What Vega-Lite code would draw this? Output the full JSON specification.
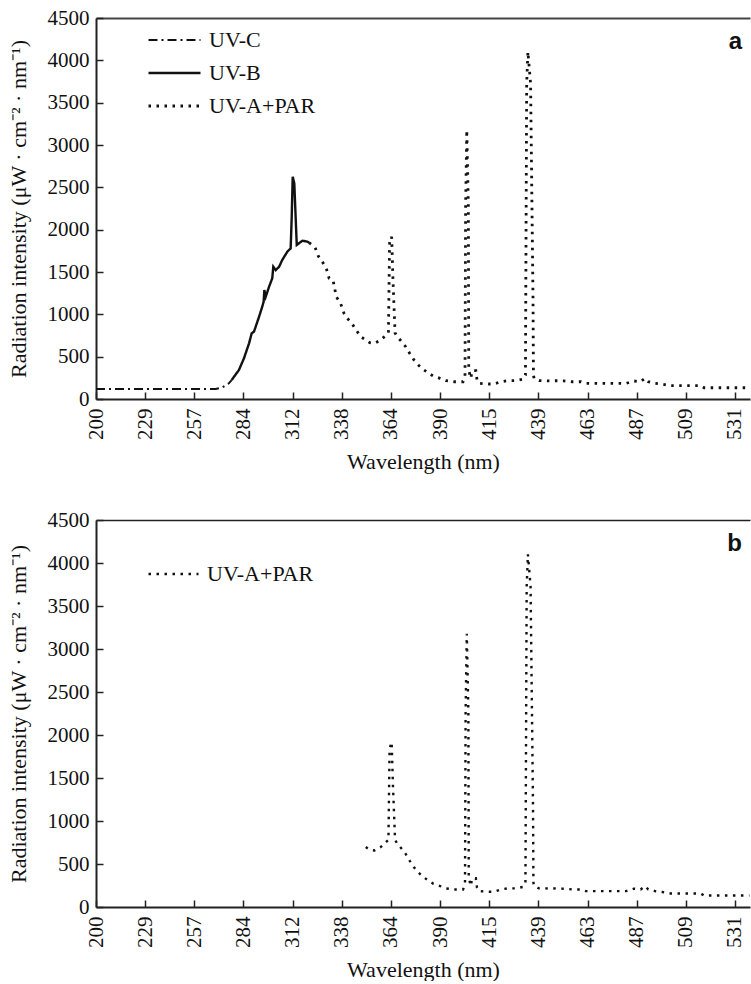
{
  "$schema": "https://vega.github.io/schema/vega-lite/v6.json",
  "padding": {"left": 7, "top": 7, "right": 0, "bottom": 0},
  "background": "white",
  "config": {
    "font": "Liberation Serif, serif",
    "view": {"stroke": null},
    "axis": {
      "grid": false,
      "labelFont": "Liberation Serif, serif",
      "labelFontSize": 21,
      "labelColor": "#111",
      "titleFont": "Liberation Serif, serif",
      "titleFontSize": 22,
      "titleFontWeight": "normal",
      "titleColor": "#111",
      "domainColor": "#222",
      "domainWidth": 2,
      "tickColor": "#222",
      "tickWidth": 1.5,
      "tickSize": -7
    },
    "legend": {
      "labelFont": "Liberation Serif, serif",
      "labelFontSize": 22,
      "labelColor": "#111"
    }
  },
  "datasets": {
    "spec": [
      {"wl": 200, "val": 118, "series": "UV-C"},
      {"wl": 268.7, "val": 118, "series": "UV-C"},
      {"wl": 272.4, "val": 138, "series": "UV-C"},
      {"wl": 276.0, "val": 185, "series": "UV-C"},
      {"wl": 277.5, "val": 224, "series": "UV-C"},
      {"wl": 277.5, "val": 224, "series": "UV-B"},
      {"wl": 281.5, "val": 342, "series": "UV-B"},
      {"wl": 284.3, "val": 481, "series": "UV-B"},
      {"wl": 287.2, "val": 658, "series": "UV-B"},
      {"wl": 288.7, "val": 776, "series": "UV-B"},
      {"wl": 290.0, "val": 795, "series": "UV-B"},
      {"wl": 292.9, "val": 972, "series": "UV-B"},
      {"wl": 294.7, "val": 1090, "series": "UV-B"},
      {"wl": 295.5, "val": 1149, "series": "UV-B"},
      {"wl": 295.9, "val": 1287, "series": "UV-B"},
      {"wl": 296.7, "val": 1208, "series": "UV-B"},
      {"wl": 298.6, "val": 1326, "series": "UV-B"},
      {"wl": 300.4, "val": 1425, "series": "UV-B"},
      {"wl": 301.0, "val": 1562, "series": "UV-B"},
      {"wl": 302.4, "val": 1523, "series": "UV-B"},
      {"wl": 304.3, "val": 1562, "series": "UV-B"},
      {"wl": 306.1, "val": 1642, "series": "UV-B"},
      {"wl": 309.0, "val": 1740, "series": "UV-B"},
      {"wl": 310.9, "val": 1780, "series": "UV-B"},
      {"wl": 311.5, "val": 2153, "series": "UV-B"},
      {"wl": 312.05, "val": 2625, "series": "UV-B"},
      {"wl": 312.9, "val": 2547, "series": "UV-B"},
      {"wl": 313.6, "val": 2153, "series": "UV-B"},
      {"wl": 314.2, "val": 1819, "series": "UV-B"},
      {"wl": 315.4, "val": 1839, "series": "UV-B"},
      {"wl": 317.2, "val": 1870, "series": "UV-B"},
      {"wl": 319.8, "val": 1858, "series": "UV-B"},
      {"wl": 320.7, "val": 1846, "series": "UV-B"},
      {"wl": 320.7, "val": 1846, "series": "UV-A+PAR"},
      {"wl": 323.9, "val": 1792, "series": "UV-A+PAR"},
      {"wl": 325.6, "val": 1689, "series": "UV-A+PAR"},
      {"wl": 327.7, "val": 1622, "series": "UV-A+PAR"},
      {"wl": 329.8, "val": 1544, "series": "UV-A+PAR"},
      {"wl": 331.3, "val": 1425, "series": "UV-A+PAR"},
      {"wl": 333.4, "val": 1405, "series": "UV-A+PAR"},
      {"wl": 335.1, "val": 1208, "series": "UV-A+PAR"},
      {"wl": 337.4, "val": 1130, "series": "UV-A+PAR"},
      {"wl": 339.2, "val": 1012, "series": "UV-A+PAR"},
      {"wl": 340.9, "val": 953, "series": "UV-A+PAR"},
      {"wl": 343.3, "val": 894, "series": "UV-A+PAR"},
      {"wl": 345.4, "val": 823, "series": "UV-A+PAR"},
      {"wl": 348.0, "val": 736, "series": "UV-A+PAR"},
      {"wl": 350.7, "val": 697, "series": "UV-A+PAR"},
      {"wl": 352.8, "val": 665, "series": "UV-A+PAR"},
      {"wl": 355.4, "val": 658, "series": "UV-A+PAR"},
      {"wl": 358.6, "val": 697, "series": "UV-A+PAR"},
      {"wl": 361.5, "val": 756, "series": "UV-A+PAR"},
      {"wl": 362.7, "val": 780, "series": "UV-A+PAR"},
      {"wl": 363.3, "val": 1842, "series": "UV-A+PAR"},
      {"wl": 364.4, "val": 1917, "series": "UV-A+PAR"},
      {"wl": 365.1, "val": 1405, "series": "UV-A+PAR"},
      {"wl": 366.2, "val": 780, "series": "UV-A+PAR"},
      {"wl": 367.4, "val": 736, "series": "UV-A+PAR"},
      {"wl": 369.7, "val": 677, "series": "UV-A+PAR"},
      {"wl": 371.8, "val": 618, "series": "UV-A+PAR"},
      {"wl": 373.9, "val": 540, "series": "UV-A+PAR"},
      {"wl": 376.2, "val": 461, "series": "UV-A+PAR"},
      {"wl": 378.5, "val": 402, "series": "UV-A+PAR"},
      {"wl": 381.0, "val": 351, "series": "UV-A+PAR"},
      {"wl": 383.6, "val": 311, "series": "UV-A+PAR"},
      {"wl": 386.3, "val": 272, "series": "UV-A+PAR"},
      {"wl": 390.0, "val": 244, "series": "UV-A+PAR"},
      {"wl": 392.9, "val": 216, "series": "UV-A+PAR"},
      {"wl": 397.1, "val": 204, "series": "UV-A+PAR"},
      {"wl": 401.7, "val": 204, "series": "UV-A+PAR"},
      {"wl": 402.7, "val": 263, "series": "UV-A+PAR"},
      {"wl": 403.0, "val": 2271, "series": "UV-A+PAR"},
      {"wl": 403.6, "val": 3177, "series": "UV-A+PAR"},
      {"wl": 404.4, "val": 2271, "series": "UV-A+PAR"},
      {"wl": 404.6, "val": 342, "series": "UV-A+PAR"},
      {"wl": 405.6, "val": 244, "series": "UV-A+PAR"},
      {"wl": 406.4, "val": 334, "series": "UV-A+PAR"},
      {"wl": 408.2, "val": 334, "series": "UV-A+PAR"},
      {"wl": 408.8, "val": 224, "series": "UV-A+PAR"},
      {"wl": 409.8, "val": 185, "series": "UV-A+PAR"},
      {"wl": 414.9, "val": 177, "series": "UV-A+PAR"},
      {"wl": 417.3, "val": 177, "series": "UV-A+PAR"},
      {"wl": 420.6, "val": 204, "series": "UV-A+PAR"},
      {"wl": 423.8, "val": 216, "series": "UV-A+PAR"},
      {"wl": 427.9, "val": 216, "series": "UV-A+PAR"},
      {"wl": 431.5, "val": 233, "series": "UV-A+PAR"},
      {"wl": 432.7, "val": 283, "series": "UV-A+PAR"},
      {"wl": 433.3, "val": 3728, "series": "UV-A+PAR"},
      {"wl": 433.9, "val": 4102, "series": "UV-A+PAR"},
      {"wl": 435.2, "val": 3728, "series": "UV-A+PAR"},
      {"wl": 436.4, "val": 1169, "series": "UV-A+PAR"},
      {"wl": 436.6, "val": 283, "series": "UV-A+PAR"},
      {"wl": 436.9, "val": 244, "series": "UV-A+PAR"},
      {"wl": 439.3, "val": 216, "series": "UV-A+PAR"},
      {"wl": 442.6, "val": 216, "series": "UV-A+PAR"},
      {"wl": 445.0, "val": 213, "series": "UV-A+PAR"},
      {"wl": 447.5, "val": 216, "series": "UV-A+PAR"},
      {"wl": 451.5, "val": 213, "series": "UV-A+PAR"},
      {"wl": 455.6, "val": 204, "series": "UV-A+PAR"},
      {"wl": 459.7, "val": 204, "series": "UV-A+PAR"},
      {"wl": 462.1, "val": 185, "series": "UV-A+PAR"},
      {"wl": 466.2, "val": 185, "series": "UV-A+PAR"},
      {"wl": 470.2, "val": 185, "series": "UV-A+PAR"},
      {"wl": 474.3, "val": 185, "series": "UV-A+PAR"},
      {"wl": 478.4, "val": 185, "series": "UV-A+PAR"},
      {"wl": 481.9, "val": 185, "series": "UV-A+PAR"},
      {"wl": 485.7, "val": 213, "series": "UV-A+PAR"},
      {"wl": 488.8, "val": 204, "series": "UV-A+PAR"},
      {"wl": 490.7, "val": 244, "series": "UV-A+PAR"},
      {"wl": 492.2, "val": 204, "series": "UV-A+PAR"},
      {"wl": 495.2, "val": 185, "series": "UV-A+PAR"},
      {"wl": 498.5, "val": 174, "series": "UV-A+PAR"},
      {"wl": 502.2, "val": 157, "series": "UV-A+PAR"},
      {"wl": 509.0, "val": 157, "series": "UV-A+PAR"},
      {"wl": 515.7, "val": 157, "series": "UV-A+PAR"},
      {"wl": 517.2, "val": 133, "series": "UV-A+PAR"},
      {"wl": 525.4, "val": 133, "series": "UV-A+PAR"},
      {"wl": 533.6, "val": 133, "series": "UV-A+PAR"},
      {"wl": 537.7, "val": 133, "series": "UV-A+PAR"}
    ]
  },
  "vconcat": [
    {
      "width": 654,
      "height": 381,
      "data": {"name": "spec"},
      "title": {"text": "a", "anchor": "end", "frame": "group", "offset": 0, "baseline": "alphabetic", "dy": 66, "dx": -8, "font": "Liberation Sans, sans-serif", "fontWeight": "bold", "fontSize": 24, "color": "#111"},
      "layer": [
        {
          "mark": {"type": "line", "color": "#111"},
          "encoding": {
            "x": {"field": "wl", "type": "quantitative",
                  "scale": {"domain": [200, 229, 257, 284, 312, 338, 364, 390, 415, 439, 463, 487, 509, 531, 538], "range": [0, 49.15, 98.3, 147.45, 196.6, 245.75, 294.9, 344.05, 393.2, 442.35, 491.5, 540.65, 589.8, 638.95, 654], "nice": false, "zero": false},
                  "axis": {"values": [200, 229, 257, 284, 312, 338, 364, 390, 415, 439, 463, 487, 509, 531], "labelAngle": -90, "labelPadding": 16, "title": "Wavelength (nm)", "titlePadding": 12}},
            "y": {"field": "val", "type": "quantitative",
                  "scale": {"domain": [0, 4500], "nice": false, "zero": true},
                  "axis": {"values": [0, 500, 1000, 1500, 2000, 2500, 3000, 3500, 4000, 4500], "format": "d", "labelPadding": 14, "title": "Radiation intensity (μW · cm⁻² · nm⁻¹)", "titlePadding": 17}},
            "strokeDash": {"field": "series", "type": "nominal",
                  "scale": {"domain": ["UV-C", "UV-B", "UV-A+PAR"], "range": [[9, 4, 2, 4], [1, 0], [2.5, 5.5]]},
                  "legend": {"orient": "none", "legendX": 51, "legendY": 5.5, "title": null, "symbolType": "stroke", "symbolSize": 2704, "symbolStrokeColor": "#111", "labelOffset": 7, "rowPadding": 0, "padding": 0, "clipHeight": 33}},
            "strokeWidth": {"field": "series", "type": "nominal",
                  "scale": {"domain": ["UV-C", "UV-B", "UV-A+PAR"], "range": [2, 2.8, 2.4]}}
          }
        },
        {
          "mark": {"type": "line", "opacity": 0},
          "encoding": {
            "x": {"field": "wl", "type": "quantitative", "axis": {"orient": "top", "labels": false, "ticks": false, "title": null, "domainColor": "#444", "domainWidth": 2}},
            "y": {"field": "val", "type": "quantitative",
                  "axis": {"values": [0, 500, 1000, 1500, 2000, 2500, 3000, 3500, 4000, 4500], "format": "d", "labelPadding": 14, "title": "Radiation intensity (μW · cm⁻² · nm⁻¹)", "titlePadding": 17}}
          }
        }
      ],
      "resolve": {"axis": {"x": "independent"}}
    },
    {
      "width": 654,
      "height": 387,
      "data": {"name": "spec"},
      "transform": [{"filter": "datum.series == 'UV-A+PAR' && datum.wl >= 350"}],
      "title": {"text": "b", "anchor": "end", "frame": "group", "offset": 0, "baseline": "alphabetic", "dy": 66, "dx": -8, "font": "Liberation Sans, sans-serif", "fontWeight": "bold", "fontSize": 24, "color": "#111"},
      "layer": [
        {
          "mark": {"type": "line", "color": "#111", "strokeWidth": 2.4},
          "encoding": {
            "x": {"field": "wl", "type": "quantitative",
                  "scale": {"domain": [200, 229, 257, 284, 312, 338, 364, 390, 415, 439, 463, 487, 509, 531, 538], "range": [0, 49.15, 98.3, 147.45, 196.6, 245.75, 294.9, 344.05, 393.2, 442.35, 491.5, 540.65, 589.8, 638.95, 654], "nice": false, "zero": false},
                  "axis": {"values": [200, 229, 257, 284, 312, 338, 364, 390, 415, 439, 463, 487, 509, 531], "labelAngle": -90, "labelPadding": 16, "title": "Wavelength (nm)", "titlePadding": 12}},
            "y": {"field": "val", "type": "quantitative",
                  "scale": {"domain": [0, 4500], "nice": false, "zero": true},
                  "axis": {"values": [0, 500, 1000, 1500, 2000, 2500, 3000, 3500, 4000, 4500], "format": "d", "labelPadding": 14, "title": "Radiation intensity (μW · cm⁻² · nm⁻¹)", "titlePadding": 17}},
            "strokeDash": {"field": "series", "type": "nominal",
                  "scale": {"domain": ["UV-A+PAR"], "range": [[2.5, 5.5]]},
                  "legend": {"orient": "none", "legendX": 51, "legendY": 37.5, "title": null, "symbolType": "stroke", "symbolSize": 2500, "symbolStrokeColor": "#111", "symbolStrokeWidth": 2.4, "symbolDash": [2.5, 5.5], "labelOffset": 7, "rowPadding": 0, "padding": 0, "clipHeight": 33}}
          }
        },
        {
          "mark": {"type": "line", "opacity": 0},
          "encoding": {
            "x": {"field": "wl", "type": "quantitative", "axis": {"orient": "top", "labels": false, "ticks": false, "title": null, "domainColor": "#222", "domainWidth": 1.5}},
            "y": {"field": "val", "type": "quantitative",
                  "axis": {"values": [0, 500, 1000, 1500, 2000, 2500, 3000, 3500, 4000, 4500], "format": "d", "labelPadding": 14, "title": "Radiation intensity (μW · cm⁻² · nm⁻¹)", "titlePadding": 17}}
          }
        }
      ],
      "resolve": {"axis": {"x": "independent"}}
    }
  ],
  "spacing": 36,
  "resolve": {
    "scale": {"x": "independent", "y": "independent", "strokeDash": "independent", "strokeWidth": "independent"},
    "legend": {"strokeDash": "independent", "strokeWidth": "independent"}
  }
}
